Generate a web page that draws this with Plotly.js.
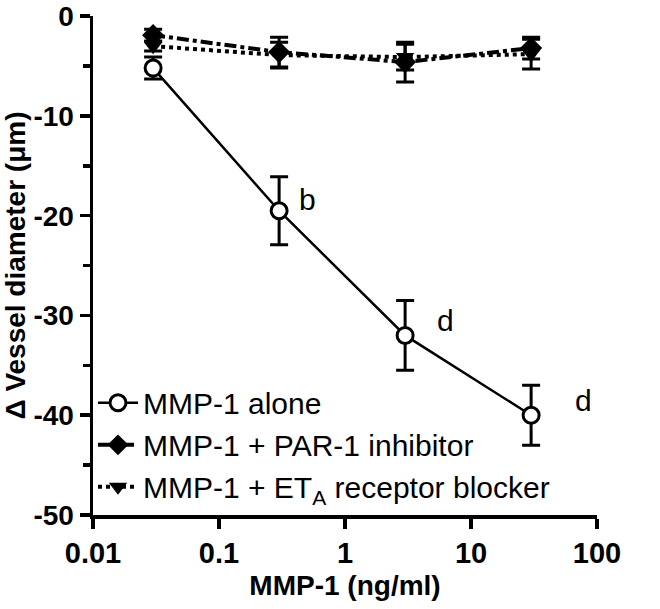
<!DOCTYPE html>
<html>
<head>
<meta charset="utf-8">
<script src="https://cdn.plot.ly/plotly-3.0.1.min.js"></script>
<style>html,body{margin:0;padding:0;background:#fff;}#chart{width:660px;height:609px;}</style>
</head>
<body>
<div id="chart"></div>
<script>
// Data
var doses = [0.03, 0.3, 3, 30];
var aloneMean = [-5.2, -19.5, -32.0, -40.0];
var aloneErr = [1.1, 3.4, 3.5, 3.0];
var parMean = [-1.9, -3.6, -4.6, -3.2];
var parErr = [0.6, 1.5, 2.0, 1.1];
var etaMean = [-3.0, -3.9, -4.1, -3.8];
var etaErr = [0.5, 1.3, 1.3, 1.5];
var sigLabels = ['', 'b', 'd', 'd'];
var seriesNames = ['MMP-1 alone', 'MMP-1 + PAR-1 inhibitor', 'MMP-1 + ET<sub>A</sub> receptor blocker'];
var xTicks = [0.01, 0.1, 1, 10, 100];
var xTickText = ['0.01', '0.1', '1', '10', '100'];
var yTicks = [0, -10, -20, -30, -40, -50];
var yTickText = ['0', '-10', '-20', '-30', '-40', '-50'];

// label placement (style, not data)
var labelShiftX = [0, 28, 40, 52];
var labelShiftY = [0, 11, 15, 15];

var FONT = 'Liberation Sans, Arial, sans-serif';

function errObj(arr) {
  return {type: 'data', array: arr, visible: true, color: '#000', thickness: 3, width: 9};
}

var traces = [
  {
    x: doses, y: aloneMean, name: seriesNames[0], type: 'scatter', mode: 'lines+markers',
    line: {color: '#000', width: 2.5, dash: 'solid'},
    marker: {symbol: 'circle', size: 16, color: '#fff', line: {color: '#000', width: 3}},
    error_y: errObj(aloneErr)
  },
  {
    x: doses, y: parMean, name: seriesNames[1], type: 'scatter', mode: 'lines+markers',
    line: {color: '#000', width: 4, dash: 'dashdot'},
    marker: {symbol: 'diamond', size: 17, color: '#000'},
    error_y: errObj(parErr)
  },
  {
    x: doses, y: etaMean, name: seriesNames[2], type: 'scatter', mode: 'lines+markers',
    line: {color: '#000', width: 4, dash: 'dot'},
    marker: {symbol: 'triangle-down', size: 16, color: '#000'},
    error_y: errObj(etaErr)
  }
];

var annotations = [];
for (var i = 0; i < doses.length; i++) {
  if (sigLabels[i]) {
    annotations.push({
      x: Math.log10(doses[i]), y: aloneMean[i], xref: 'x', yref: 'y',
      text: sigLabels[i], showarrow: false, xanchor: 'center', yanchor: 'middle',
      xshift: labelShiftX[i], yshift: labelShiftY[i],
      font: {family: FONT, size: 30, color: '#000'}
    });
  }
}

var layout = {
  width: 660, height: 609,
  margin: {l: 93, r: 63, t: 16, b: 94, pad: 0},
  paper_bgcolor: '#fff', plot_bgcolor: '#fff',
  showlegend: true,
  legend: {
    x: 0.0, y: 0.277, xanchor: 'left', yanchor: 'top',
    font: {family: FONT, size: 30, color: '#000'},
    bgcolor: 'rgba(0,0,0,0)', tracegroupgap: 0, itemwidth: 40
  },
  xaxis: {
    type: 'log', range: [-2, 2],
    tickvals: xTicks, ticktext: xTickText,
    ticks: 'outside', ticklen: 10, tickwidth: 3.5, tickcolor: '#000',
    showline: true, linewidth: 3.5, linecolor: '#000',
    showgrid: false, zeroline: false, ticklabeloverflow: 'allow',
    tickfont: {family: FONT, size: 29, color: '#000', weight: 'bold'},
    title: {text: 'MMP-1 (ng/ml)', font: {family: FONT, size: 28, color: '#000', weight: 'bold'}, standoff: 8}
  },
  yaxis: {
    range: [-50, 0.02],
    tickvals: yTicks, ticktext: yTickText,
    ticks: 'outside', ticklen: 10, tickwidth: 3.5, tickcolor: '#000',
    minor: {tickvals: [-5, -15, -25, -35, -45], ticks: 'outside', ticklen: 7, tickwidth: 3.5, tickcolor: '#000', showgrid: false},
    showline: true, linewidth: 3.5, linecolor: '#000',
    showgrid: false, zeroline: false, ticklabeloverflow: 'allow',
    tickfont: {family: FONT, size: 28, color: '#000', weight: 'bold'},
    title: {text: '\u0394 Vessel diameter (\u03bcm)', font: {family: FONT, size: 28, color: '#000', weight: 'bold'}, standoff: 6}
  },
  annotations: annotations
};

Plotly.newPlot('chart', traces, layout, {staticPlot: true, displayModeBar: false});
</script>
</body>
</html>
